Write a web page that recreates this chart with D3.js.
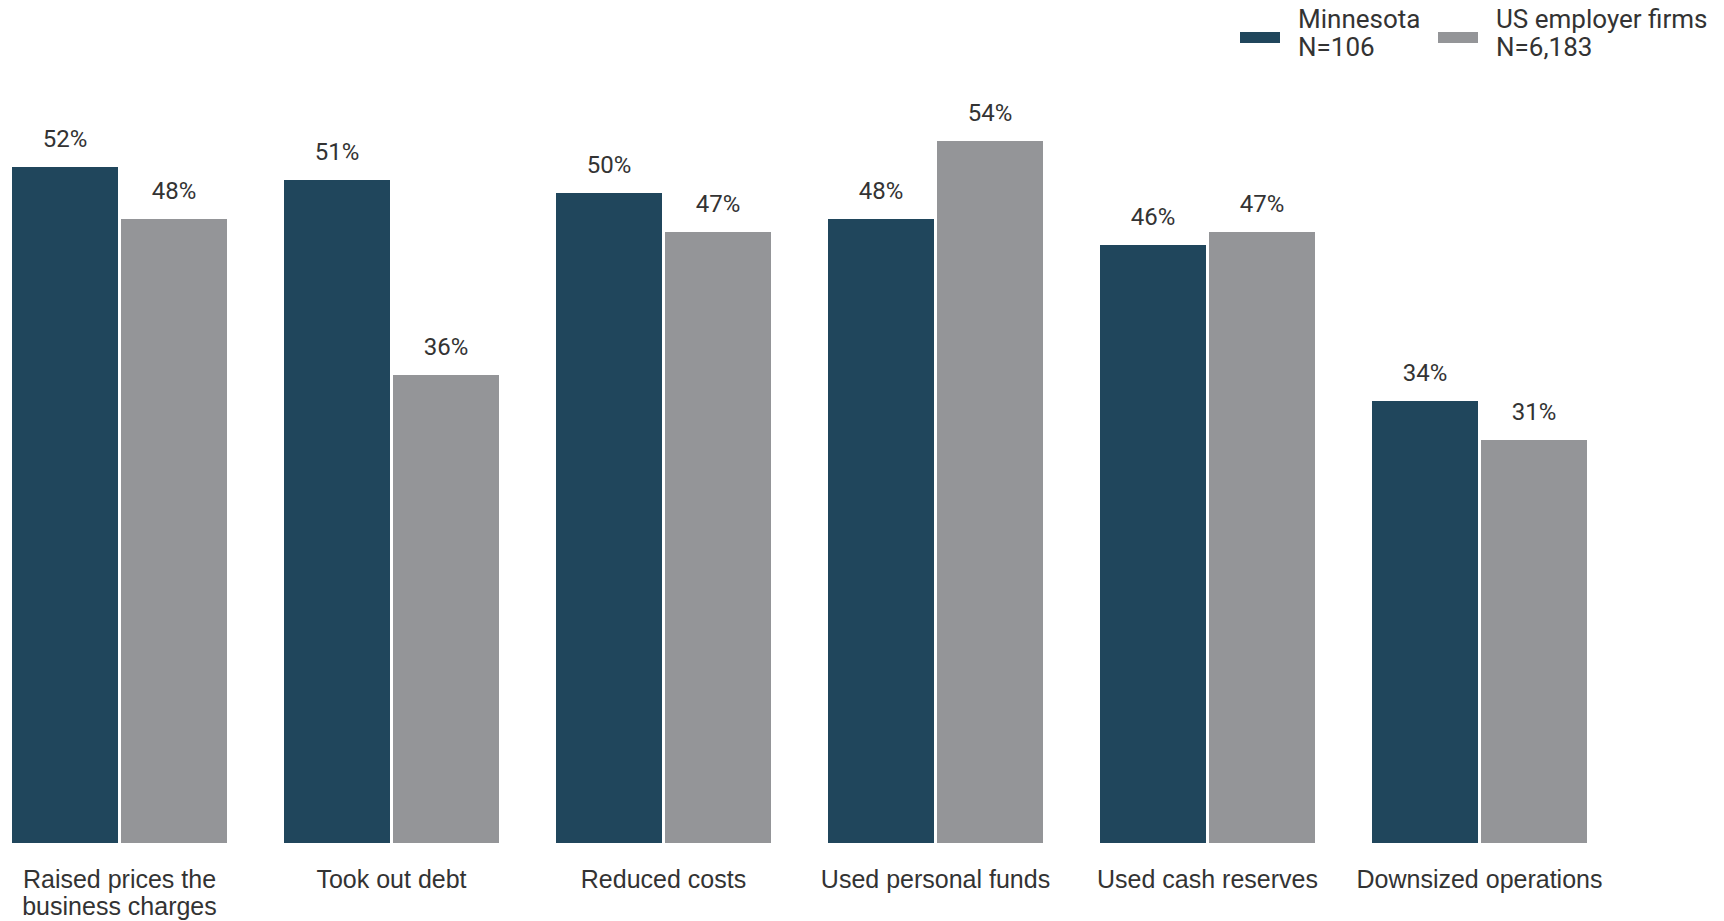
<!DOCTYPE html>
<html>
<head>
<meta charset="utf-8">
<script src="https://cdn.jsdelivr.net/npm/d3@7"></script>
<style>
  html, body { margin: 0; padding: 0; background: #ffffff; }
  svg { display: block; }
</style>
</head>
<body>
<svg id="chart" width="1724" height="921"></svg>
<script>
// ---- Data ----
const categories = [
  "Raised prices the business charges",
  "Took out debt",
  "Reduced costs",
  "Used personal funds",
  "Used cash reserves",
  "Downsized operations"
];
const categoryLines = [
  ["Raised prices the", "business charges"],
  ["Took out debt"],
  ["Reduced costs"],
  ["Used personal funds"],
  ["Used cash reserves"],
  ["Downsized operations"]
];
const seriesNames = ["Minnesota", "US employer firms"];
const seriesSub = ["N=106", "N=6,183"];
const minnesota = [52, 51, 50, 48, 46, 34];
const usFirms = [48, 36, 47, 54, 47, 31];
const colors = ["#20465c", "#949598"];

// ---- Layout ----
const svg = d3.select("#chart");
const baseY = 843;
const yTop = 843 - 54 * 13;

const x0 = d3.scaleBand().domain(categories).range([12, 1587]).paddingInner(57 / 272).paddingOuter(0);
const x1 = d3.scaleBand().domain(seriesNames).range([0, x0.bandwidth()]).paddingInner(3 / 109).paddingOuter(0);
const y = d3.scaleLinear().domain([0, 54]).range([baseY, yTop]);

const values = [minnesota, usFirms];
const rows = [];
categories.forEach((c, i) => {
  seriesNames.forEach((s, j) => rows.push({ cat: c, series: s, idx: j, v: values[j][i] }));
});

const g = svg.append("g");
g.selectAll("rect.bar").data(rows).join("rect")
  .attr("class", "bar")
  .attr("x", d => x0(d.cat) + x1(d.series))
  .attr("y", d => y(d.v))
  .attr("width", x1.bandwidth())
  .attr("height", d => y(0) - y(d.v))
  .attr("fill", d => colors[d.idx]);

g.selectAll("text.val").data(rows).join("text")
  .attr("class", "val")
  .attr("x", d => x0(d.cat) + x1(d.series) + x1.bandwidth() / 2)
  .attr("y", d => y(d.v) - 20)
  .attr("text-anchor", "middle")
  .attr("font-family", "Roboto, sans-serif")
  .attr("font-size", 24)
  .attr("fill", "#333333")
  .text(d => d.v + "%");

// Category labels
const catG = svg.append("g");
categories.forEach((c, i) => {
  const t = catG.append("text")
    .attr("x", x0(c) + x0.bandwidth() / 2)
    .attr("y", 888)
    .attr("text-anchor", "middle")
    .attr("font-family", "'Liberation Sans', Arial, sans-serif")
    .attr("font-size", 25)
    .attr("fill", "#333333");
  categoryLines[i].forEach((ln, k) => {
    t.append("tspan").attr("x", x0(c) + x0.bandwidth() / 2).attr("dy", k === 0 ? 0 : 27).text(ln);
  });
});

// Legend
const legendX = [1240, 1438];
const leg = svg.append("g");
seriesNames.forEach((s, j) => {
  leg.append("rect")
    .attr("x", legendX[j]).attr("y", 32).attr("width", 40).attr("height", 11)
    .attr("fill", colors[j]);
  const t = leg.append("text")
    .attr("x", legendX[j] + 58).attr("y", 28)
    .attr("font-family", "Roboto, sans-serif")
    .attr("font-size", 26)
    .attr("fill", "#333333");
  t.append("tspan").attr("x", legendX[j] + 58).attr("dy", 0).text(s);
  t.append("tspan").attr("x", legendX[j] + 58).attr("dy", 27.5).text(seriesSub[j]);
});
</script>
</body>
</html>
